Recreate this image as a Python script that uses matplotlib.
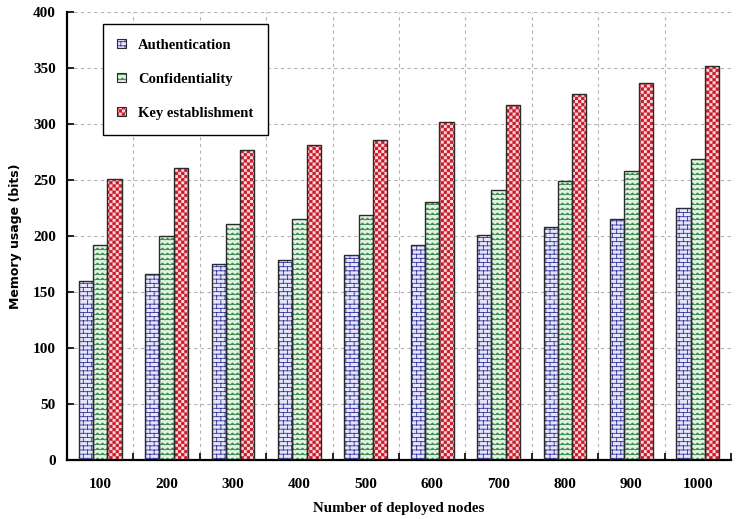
import matplotlib
matplotlib.use("Agg")
import matplotlib.pyplot as plt
import matplotlib.hatch as mhatch
from matplotlib.patches import Rectangle
import numpy as np

nodes = ["100", "200", "300", "400", "500", "600", "700", "800", "900", "1000"]
authentication = [160, 166, 175, 179, 183, 192, 201, 208, 215, 225]
confidentiality = [192, 200, 211, 215, 219, 230, 241, 249, 258, 269]
key_establishment = [251, 261, 277, 281, 286, 302, 317, 327, 337, 352]


# custom hatch patterns (unit square = 1 inch tile)
class Bricks(mhatch.HatchPatternBase):
    rows = 24
    cols = 12

    def __init__(self, hatch, density):
        self.on = hatch.count('o') > 0
        n = self.rows + self.rows * self.cols
        self.num_vertices = 2 * n if self.on else 0

    def set_vertices_and_codes(self, vertices, codes):
        v = []
        for i in range(self.rows):
            y = i / self.rows
            v += [(0, y), (1, y)]
        for i in range(self.rows):
            y0 = i / self.rows
            y1 = (i + 1) / self.rows
            shift = 0.5 / self.cols if i % 2 else 0
            for j in range(self.cols):
                x = j / self.cols + shift
                v += [(x, y0), (x, y1)]
        vertices[:] = v
        codes[0::2] = mhatch.Path.MOVETO
        codes[1::2] = mhatch.Path.LINETO


class Zigzag(mhatch.HatchPatternBase):
    rows = 20
    periods = 20

    def __init__(self, hatch, density):
        self.on = hatch.count('*') > 0
        self.npts = 2 * self.periods + 1
        self.num_vertices = self.rows * self.npts if self.on else 0

    def set_vertices_and_codes(self, vertices, codes):
        v = []
        c = []
        amp = 0.4 / self.rows
        for i in range(self.rows):
            y = i / self.rows
            for k in range(self.npts):
                v.append((k / (2 * self.periods), y + (k % 2) * amp))
                c.append(mhatch.Path.MOVETO if k == 0 else mhatch.Path.LINETO)
        vertices[:] = v
        codes[:] = c


class Checker(mhatch.HatchPatternBase):
    n = 32

    def __init__(self, hatch, density):
        self.on = hatch.count('O') > 0
        self.num_vertices = 5 * (self.n * self.n // 2) if self.on else 0

    def set_vertices_and_codes(self, vertices, codes):
        v = []
        c = []
        s = 1 / self.n
        e = 0.12 * s
        for i in range(self.n):
            for j in range(self.n):
                if (i + j) % 2 == 0:
                    x0, y0 = j * s + e, i * s + e
                    x1, y1 = (j + 1) * s - e, (i + 1) * s - e
                    v += [(x0, y0), (x1, y0), (x1, y1), (x0, y1), (x0, y0)]
                    c += [mhatch.Path.MOVETO, mhatch.Path.LINETO,
                          mhatch.Path.LINETO, mhatch.Path.LINETO,
                          mhatch.Path.CLOSEPOLY]
        vertices[:] = v
        codes[:] = c


mhatch._hatch_types = [Bricks, Zigzag, Checker]

plt.rcParams['hatch.linewidth'] = 0.6
serif = ['Liberation Serif', 'DejaVu Serif']

fig = plt.figure(figsize=(7.37, 5.19), dpi=100)
ax = fig.add_axes([0.0909, 0.1137, 0.901, 0.8632])

x = np.arange(len(nodes))
w = 0.215

series = [
    ("Authentication", authentication, -w, '#e4e4fa', '#34349a', 'o'),
    ("Confidentiality", confidentiality, 0, '#e2f2e2', '#3c8c50', '*'),
    ("Key establishment", key_establishment, w, '#ffd6d6', '#c41a2c', 'O'),
]

handles = []
for label, vals, off, face, hc, hatch in series:
    ax.bar(x + off, vals, w, color=face, edgecolor=hc, hatch=hatch,
           linewidth=0, zorder=2)
    ax.bar(x + off, vals, w, facecolor='none', edgecolor='#2a2a2a',
           linewidth=1.0, zorder=3)
    h1 = Rectangle((0, 0), 1, 1, facecolor=face, edgecolor=hc, hatch=hatch,
                   linewidth=0)
    h2 = Rectangle((0, 0), 1, 1, facecolor='none', edgecolor='#2a2a2a',
                   linewidth=0.8)
    handles.append((h1, h2))

ax.set_xlim(-0.5, len(nodes) - 0.5)
ax.set_ylim(0, 400)
ax.set_yticks(np.arange(0, 401, 50))

# boundaries between groups carry the ticks and vertical grid
ax.set_xticks(np.arange(0.5, len(nodes) + 0.5, 1))
ax.set_xticklabels([])
ax.set_xticks(x, minor=True)
ax.set_xticklabels(nodes, minor=True)
ax.tick_params(axis='x', which='minor', length=0, pad=13)
ax.tick_params(axis='x', which='major', direction='in', length=5, width=1.2)
ax.tick_params(axis='y', direction='in', length=5, width=1.2, pad=8)

for lab in ax.get_xticklabels(minor=True) + ax.get_yticklabels():
    lab.set_family(serif)
    lab.set_fontweight('bold')
    lab.set_fontsize(11)

ax.grid(True, which='major', color='#b4b4b4', linestyle=(0, (3, 3)),
        linewidth=0.8, zorder=0)
ax.set_axisbelow(True)

ax.spines['top'].set_visible(False)
ax.spines['right'].set_visible(False)
ax.spines['left'].set_linewidth(1.6)
ax.spines['bottom'].set_linewidth(1.6)

ax.set_xlabel("Number of deployed nodes", family=serif, fontweight='bold',
              fontsize=10.8, labelpad=8)
ax.set_ylabel("Memory usage (bits)", family='DejaVu Sans', fontweight='bold',
              fontsize=9, labelpad=8)

leg = ax.legend(handles, [s[0] for s in series], loc='upper left',
                bbox_to_anchor=(0.054, 0.973), borderaxespad=0,
                prop={'family': serif, 'weight': 'bold', 'size': 10.5},
                handlelength=0.6, handleheight=0.6, handletextpad=0.8,
                labelspacing=1.45, borderpad=1.0, fancybox=False,
                framealpha=1, edgecolor='black')
leg.get_frame().set_linewidth(1.0)

fig.savefig("out.png", dpi=100)
